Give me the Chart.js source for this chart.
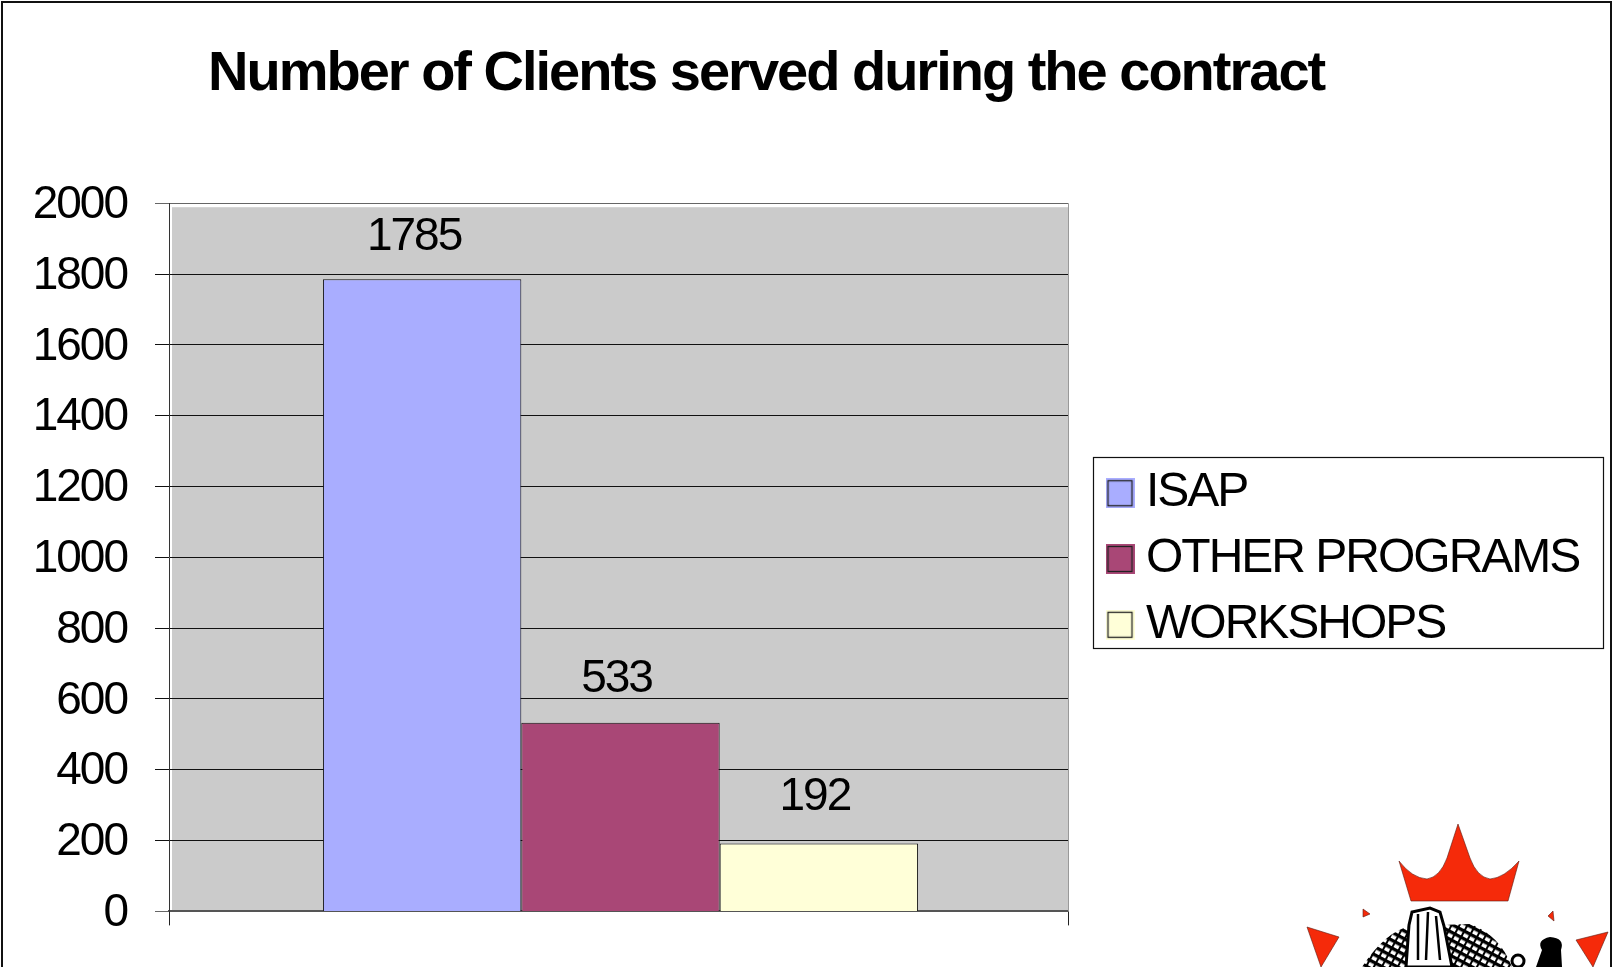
<!DOCTYPE html>
<html>
<head>
<meta charset="utf-8">
<title>Number of Clients served during the contract</title>
<script src="https://cdn.jsdelivr.net/npm/chart.js@4"></script>
<style>
html,body{margin:0;padding:0;background:#fff;overflow:hidden}
#wrap{position:relative;width:1614px;height:967px;overflow:hidden}
canvas{position:absolute;left:0;top:0}
#frame{position:absolute;left:1px;top:1px;width:1611px;height:970px;border:2px solid #111;box-sizing:border-box;pointer-events:none}
#logo{position:absolute;left:0;top:0;pointer-events:none}
</style>
</head>
<body>
<div id="wrap">
<canvas id="c" width="1614" height="967"></canvas>
<svg id="logo" width="1614" height="967" viewBox="0 0 1614 967">
  <defs>
    <pattern id="hatch" width="7" height="7" patternUnits="userSpaceOnUse" patternTransform="rotate(28)">
      <rect width="7" height="7" fill="#fff"/><rect width="7" height="3.4" fill="#000"/><rect width="2" height="7" fill="#000"/>
    </pattern>
  </defs>
  <g fill="#f52a0a" stroke="#5a1a10" stroke-width=".6">
    <path d="M1458 824 L1470 858 Q1477 877 1490 879 Q1504 878 1519 861 L1508 901 L1411 901 L1399 861 Q1412 878 1427 879 Q1440 877 1447 858 Z"/>
    <path d="M1307 927 L1339 937 L1321 967 Z"/>
    <path d="M1608 932 L1576 940 L1593 967 Z"/>
    <path d="M1363 909 L1370 914 L1363 917 Z"/>
    <path d="M1548 916 L1553 911 L1554 921 Z"/>
  </g>
  <path d="M1362 967 Q1385 932 1410 926 L1470 924 Q1500 935 1512 967 Z" fill="url(#hatch)"/>
  <path d="M1409 925 L1412 912 L1430 908 L1440 912 L1444 926 L1452 967 L1406 967 Z" fill="#fff" stroke="#000" stroke-width="3"/>
  <path d="M1418 914 L1418 960 M1428 912 L1426 960 M1436 916 L1440 960" stroke="#000" stroke-width="2.5" fill="none"/>
  <path d="M1536 967 L1542 950 Q1536 940 1550 937 Q1565 938 1561 950 L1562 967 Z" fill="#000"/>
  <circle cx="1518" cy="961" r="6" fill="#fff" stroke="#000" stroke-width="3"/>
</svg>
<div id="frame"></div>
</div>
<script>
const titleText = "Number of Clients served during the contract";
const categories = [""];
const seriesNames = ["ISAP", "OTHER PROGRAMS", "WORKSHOPS"];
const isapValues = [1785];
const otherProgramsValues = [533];
const workshopsValues = [192];
const seriesColors = ["#a9adff", "#a94776", "#ffffd8"];

const FONT = '"Liberation Sans", Arial, sans-serif';
const SPACING = '-2px';
const BAR_SHIFT = 2;
const LABEL_NUDGE_X = [-6, -2, -2];
const LABEL_NUDGE_Y = [-42, -43, -46];

function swatch(color) {
  const s = document.createElement('canvas');
  s.width = 29; s.height = 30;
  const x = s.getContext('2d');
  x.fillStyle = color; x.fillRect(0, 0, 29, 30);
  x.strokeStyle = '#222'; x.lineWidth = 1.3;
  x.strokeRect(2.5, 2.5, 24, 25);
  return s;
}

const reportStyle = {
  id: 'reportStyle',
  beforeUpdate(c) { c.ctx.letterSpacing = SPACING; },
  beforeDraw(c) {
    const { ctx, chartArea: a } = c;
    ctx.letterSpacing = SPACING;
    ctx.save();
    ctx.fillStyle = '#cbcbcb';
    ctx.fillRect(a.left + 3, a.top + 4, a.right - a.left - 3, a.bottom - a.top - 4);
    ctx.restore();
  },
  beforeDatasetsDraw(c) {
    c.ctx.save();
    c.ctx.translate(BAR_SHIFT, 0);
  },
  afterDatasetsDraw(c) {
    c.ctx.restore();
  },
  afterLayout(c) {
    const t = c.titleBlock;
    t.left = 208; t.right = 1400;
    const l = c.legend;
    l.left = 1100.2; l.right = 1604; l.top = 451.4; l.bottom = 720;
    l.width = l.right - l.left; l.height = l.bottom - l.top;
  },
  afterDraw(c) {
    const { ctx, chartArea: a } = c;
    ctx.save();
    ctx.strokeStyle = '#999'; ctx.lineWidth = 1;
    ctx.beginPath(); ctx.moveTo(a.right + .5, a.top); ctx.lineTo(a.right + .5, a.bottom); ctx.stroke();
    ctx.strokeStyle = '#111'; ctx.lineWidth = 1.2;
    ctx.strokeRect(1093.5, 457.5, 510, 191);
    ctx.restore();
  }
};

const valueLabels = {
  id: 'valueLabels',
  afterDatasetsDraw(c) {
    const { ctx } = c;
    ctx.save();
    ctx.font = '46px ' + FONT;
    ctx.fillStyle = '#000';
    ctx.textAlign = 'center';
    ctx.textBaseline = 'middle';
    c.data.datasets.forEach((d, i) => {
      const bar = c.getDatasetMeta(i).data[0];
      ctx.fillText(String(d.data[0]), bar.x + LABEL_NUDGE_X[i], bar.y + LABEL_NUDGE_Y[i]);
    });
    ctx.restore();
  }
};

new Chart(document.getElementById('c'), {
  type: 'bar',
  data: {
    labels: categories,
    datasets: [
      { label: seriesNames[0], data: isapValues, backgroundColor: seriesColors[0] },
      { label: seriesNames[1], data: otherProgramsValues, backgroundColor: seriesColors[1] },
      { label: seriesNames[2], data: workshopsValues, backgroundColor: seriesColors[2] }
    ].map(d => ({ ...d, borderColor: '#111', borderWidth: 1, barPercentage: 1, categoryPercentage: 0.662 }))
  },
  plugins: [reportStyle, valueLabels],
  options: {
    responsive: false,
    animation: false,
    events: [],
    layout: { padding: { left: 0, right: 546, top: 0, bottom: 5.5 } },
    plugins: {
      tooltip: { enabled: false },
      title: {
        display: true, text: titleText, align: 'start', color: '#000',
        font: { family: FONT, size: 56, weight: 'bold' },
        padding: { top: 41, bottom: 95 }
      },
      legend: {
        position: 'chartArea',
        align: 'start',
        labels: {
          color: '#000',
          font: { family: FONT, size: 48 },
          usePointStyle: true,
          boxWidth: 4, boxHeight: 30,
          pointStyleWidth: 4,
          padding: 17.8,
          generateLabels(chart) {
            return chart.data.datasets.map((d, i) => ({
              text: d.label, pointStyle: swatch(d.backgroundColor), datasetIndex: i,
              fillStyle: d.backgroundColor, strokeStyle: '#111', lineWidth: 0
            }));
          }
        }
      }
    },
    scales: {
      x: {
        offset: true,
        ticks: { display: false },
        grid: { offset: true, drawOnChartArea: false, drawTicks: true, tickLength: 14, color: '#222', lineWidth: 1 },
        border: { color: '#555', width: 2 }
      },
      y: {
        min: 0, max: 2000,
        afterFit(s) { s.width = 169; },
        ticks: { stepSize: 200, color: '#000', font: { family: FONT, size: 46 }, padding: 28, labelOffset: 2, callback: v => String(v) },
        grid: {
          tickLength: 14,
          lineWidth: 1,
          color: ctx => (ctx.tick && (ctx.tick.value === 2000 || ctx.tick.value === 0)) ? '#666' : '#111'
        },
        border: { color: '#333', width: 1 }
      }
    }
  }
});
</script>
</body>
</html>
